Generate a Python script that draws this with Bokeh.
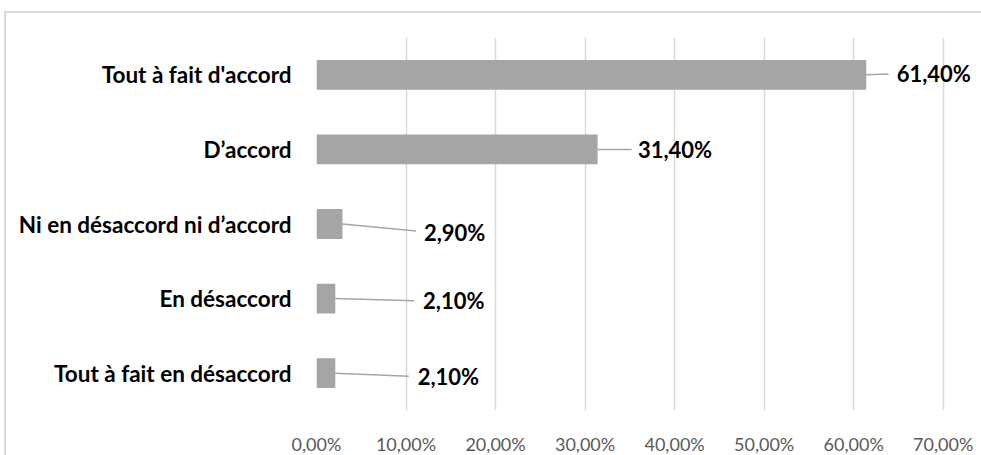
from bokeh.plotting import figure
from bokeh.models import FactorRange, ColumnDataSource, FixedTicker, Range1d
from bokeh.core.properties import value
from bokeh.embed import file_html
from bokeh.resources import INLINE

# ---- data ----
categories = ["Tout à fait d'accord", "D’accord", "Ni en désaccord ni d’accord",
              "En désaccord", "Tout à fait en désaccord"]
values = [61.4, 31.4, 2.9, 2.1, 2.1]
value_labels = ["61,40%", "31,40%", "2,90%", "2,10%", "2,10%"]
x_ticks = [0, 10, 20, 30, 40, 50, 60, 70]
x_tick_labels = ["0,00%", "10,00%", "20,00%", "30,00%", "40,00%", "50,00%", "60,00%", "70,00%"]

# ---- label placement (positions only) ----
leader_end_x = [63.9, 35.2, 11.1, 10.9, 10.3]
leader_end_dy = [0.01, 0.0, -0.094, -0.03, -0.04]
label_x = [64.8, 35.9, 12.0, 11.9, 11.3]
label_dy = [0.02, 0.0, -0.11, -0.03, -0.045]

FONT = "Lato"

# frame runs to the right edge so the outer data label is not clipped;
# the axis itself ends at 70 %.
p = figure(width=977, height=444, output_backend="svg", toolbar_location=None,
           y_range=FactorRange(factors=categories[::-1]),
           x_range=Range1d(0, 74.5), margin=(11, 0, 0, 4),
           min_border_left=310, min_border_right=0,
           min_border_top=24, min_border_bottom=45)
p.styles = {"border-top": "2px solid #D9D9D9", "border-left": "2px solid #D9D9D9"}
p.outline_line_color = None
p.background_fill_color = "white"
p.border_fill_color = "white"

src = ColumnDataSource(dict(cat=categories, val=values))
p.hbar(y="cat", right="val", left=0, height=0.4, source=src,
       fill_color="#A5A5A5", line_color=None)

# leader lines
seg = ColumnDataSource(dict(
    x0=values, y0=[(c, 0.0) for c in categories],
    x1=leader_end_x, y1=[(c, d) for c, d in zip(categories, leader_end_dy)]))
p.segment(x0="x0", y0="y0", x1="x1", y1="y1", source=seg,
          line_color="#A6A6A6", line_width=1.5)

lab = ColumnDataSource(dict(x=label_x, y=[(c, d) for c, d in zip(categories, label_dy)],
                            t=value_labels))
p.text(x="x", y="y", text="t", source=lab, text_font=value(FONT),
       text_font_style="bold", text_font_size="22px", text_color="black",
       text_align="left", text_baseline="middle")

# axes
p.xaxis.ticker = FixedTicker(ticks=x_ticks)
p.xaxis.major_label_overrides = {t: l for t, l in zip(x_ticks, x_tick_labels)}
p.xaxis.axis_line_color = None
p.xaxis.major_tick_line_color = None
p.xaxis.minor_tick_line_color = None
p.xaxis.major_label_text_font = FONT
p.xaxis.major_label_text_font_size = "18px"
p.xaxis.major_label_text_color = "#595959"
p.xaxis.major_label_standoff = 16

p.yaxis.axis_line_color = None
p.yaxis.major_tick_line_color = None
p.yaxis.major_label_text_font = FONT
p.yaxis.major_label_text_font_style = "bold"
p.yaxis.major_label_text_font_size = "22.5px"
p.yaxis.major_label_text_color = "black"
p.yaxis.major_label_standoff = 19

p.xgrid.grid_line_color = "#D9D9D9"
p.xgrid.grid_line_width = 1.5
p.ygrid.grid_line_color = None

open("out.html", "w").write(file_html(p, INLINE))
